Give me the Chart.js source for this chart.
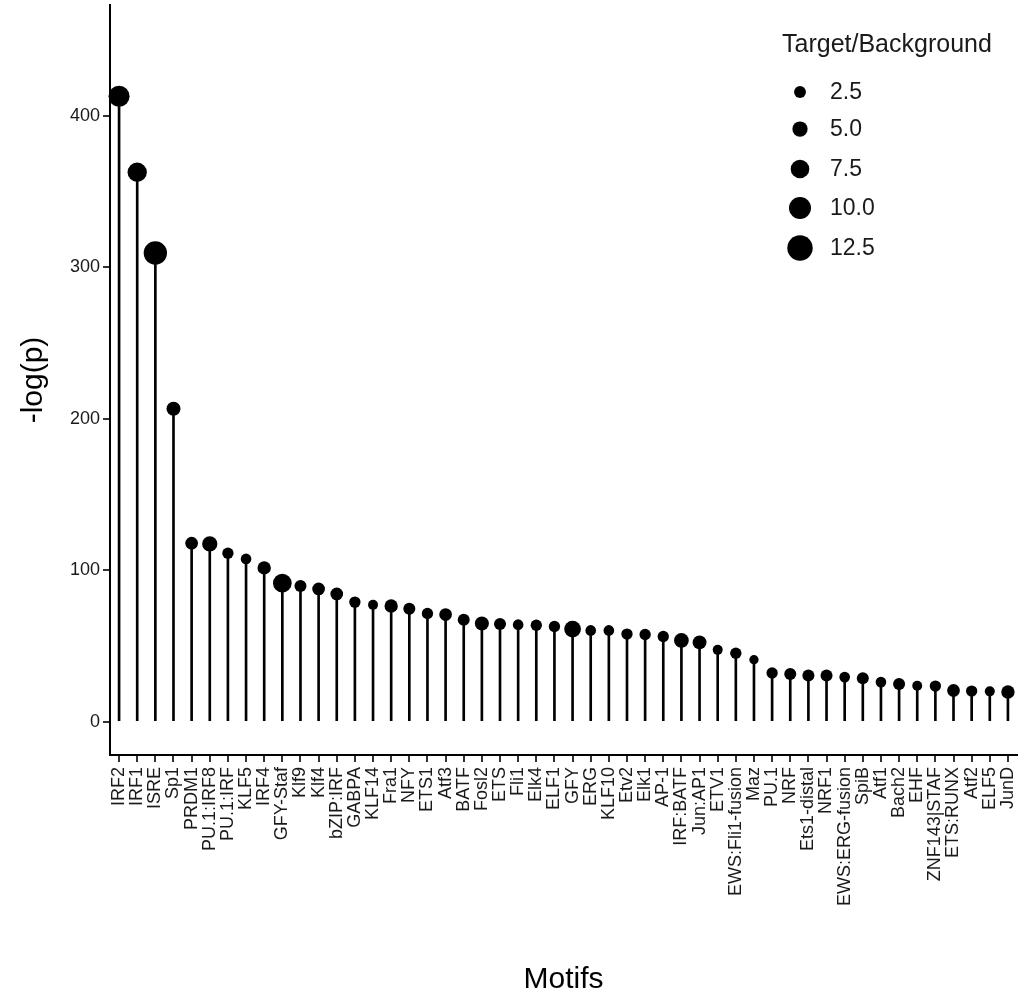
<!DOCTYPE html>
<html>
<head>
<meta charset="utf-8">
<script src="https://cdn.jsdelivr.net/npm/chart.js@4.4.1/dist/chart.umd.min.js"></script>
<style>
  html, body { margin: 0; padding: 0; background: #fff; }
  #wrap { width: 1018px; height: 1000px; }
</style>
</head>
<body>
<div id="wrap"><canvas id="motifChart" width="1018" height="1000"></canvas></div>
<script>
// motifs, in plot order
var motifs = [
  "IRF2", "IRF1", "ISRE", "Sp1", "PRDM1", "PU.1:IRF8", "PU.1:IRF", "KLF5", "IRF4", "GFY-Staf",
  "Klf9", "Klf4", "bZIP:IRF", "GABPA", "KLF14", "Fra1", "NFY", "ETS1", "Atf3", "BATF",
  "Fosl2", "ETS", "Fli1", "Elk4", "ELF1", "GFY", "ERG", "KLF10", "Etv2", "Elk1",
  "AP-1", "IRF:BATF", "Jun:AP1", "ETV1", "EWS:Fli1-fusion", "Maz", "PU.1", "NRF", "Ets1-distal", "NRF1",
  "EWS:ERG-fusion", "SpiB", "Atf1", "Bach2", "EHF", "ZNF143|STAF", "ETS:RUNX", "Atf2", "ELF5", "JunD"
];

// -log(p)
var logP = [
  412.8, 362.6, 309.3, 206.5, 117.8, 117.3, 111.2, 107.4, 101.5, 91.4,
  89.6, 87.6, 84.3, 78.9, 77.1, 76.4, 74.5, 71.4, 70.7, 67.2,
  64.8, 64.4, 64.0, 63.7, 62.8, 61.1, 60.2, 60.2, 57.8, 57.6,
  56.2, 53.6, 52.3, 47.4, 45.2, 40.9, 32.1, 31.4, 30.5, 30.5,
  29.4, 28.7, 26.1, 24.8, 23.7, 23.5, 20.6, 20.2, 20.0, 19.6
];

// target / background ratio (dot size)
var ratio = [
  9.3, 8.0, 11.0, 4.1, 3.1, 5.0, 2.1, 1.6, 3.6, 7.5,
  2.6, 3.1, 3.1, 2.1, 1.1, 3.6, 2.6, 2.1, 3.1, 2.6,
  4.1, 2.6, 1.6, 2.1, 2.1, 6.1, 1.6, 1.6, 2.1, 2.1,
  2.1, 4.6, 4.0, 1.1, 2.1, 0.6, 2.1, 2.6, 2.6, 2.6,
  1.6, 2.6, 1.6, 2.6, 1.1, 2.1, 3.1, 2.1, 1.1, 3.6
];

var yTicks = [0, 100, 200, 300, 400];
var legendSizes = [2.5, 5.0, 7.5, 10.0, 12.5];
var legendLabels = ["2.5", "5.0", "7.5", "10.0", "12.5"];

var FONT = "'Liberation Sans', Arial, sans-serif";

function dotRadius(v) {
  return (8.5 + 1.35 * v) / 2;
}

// size legend drawn by hand (chart.js legend can't vary point size)
var sizeLegend = {
  id: "sizeLegend",
  afterDraw: function (chart) {
    var ctx = chart.ctx;
    ctx.save();
    ctx.fillStyle = "#1a1a1a";
    ctx.textBaseline = "middle";
    ctx.textAlign = "left";
    ctx.font = "25px " + FONT;
    ctx.fillText("Target/Background", 782, 45);

    var ys = [92, 129, 169, 208, 248];
    ctx.font = "23px " + FONT;
    for (var i = 0; i < legendSizes.length; i++) {
      ctx.beginPath();
      ctx.arc(800, ys[i], dotRadius(legendSizes[i]), 0, Math.PI * 2);
      ctx.fillStyle = "#000";
      ctx.fill();
      ctx.fillStyle = "#1a1a1a";
      ctx.fillText(legendLabels[i], 830, ys[i] + 1);
    }
    ctx.restore();
  },
};

var ctx = document.getElementById("motifChart").getContext("2d");
new Chart(ctx, {
  data: {
    labels: motifs,
    datasets: [
      {
        type: "line",
        data: logP,
        showLine: false,
        clip: false,
        pointRadius: function (c) { return dotRadius(ratio[c.dataIndex]); },
        pointHoverRadius: function (c) { return dotRadius(ratio[c.dataIndex]); },
        pointBackgroundColor: "#000",
        pointBorderWidth: 0,
        order: 0,
      },
      {
        type: "bar",
        data: logP,
        backgroundColor: "#000",
        barThickness: 2,
        order: 1,
      },
    ],
  },
  options: {
    responsive: false,
    animation: false,
    layout: { autoPadding: false, padding: { top: 5, right: 1, left: 0, bottom: 0 } },
    plugins: {
      legend: { display: false },
      tooltip: { enabled: false },
    },
    scales: {
      x: {
        type: "category",
        offset: true,
        grid: { display: true, offset: false, drawOnChartArea: false, drawTicks: true, tickLength: 7, color: "#333", lineWidth: 2 },
        border: { display: true, color: "#000", width: 2 },
        ticks: {
          autoSkip: false,
          minRotation: 90,
          maxRotation: 90,
          padding: 5,
          color: "#1a1a1a",
          font: { family: FONT, size: 18 },
        },
        title: {
          display: true,
          text: "Motifs",
          color: "#000",
          font: { family: FONT, size: 30 },
          padding: { top: 0, bottom: 2 },
        },
        afterFit: function (scale) {
          scale.height = 245;
          scale.paddingLeft = 0;
          scale.paddingRight = 0;
        },
      },
      y: {
        min: -22,
        max: 473,
        afterBuildTicks: function (scale) {
          scale.ticks = yTicks.map(function (v) { return { value: v }; });
        },
        grid: { display: true, drawOnChartArea: false, drawTicks: true, tickLength: 7, color: "#333", lineWidth: 2 },
        border: { display: true, color: "#000", width: 2 },
        ticks: {
          padding: 3,
          color: "#1a1a1a",
          font: { family: FONT, size: 18 },
        },
        title: {
          display: true,
          text: "-log(p)",
          color: "#000",
          font: { family: FONT, size: 30 },
          padding: { top: 16, bottom: 0 },
        },
        afterFit: function (scale) {
          scale.width = 110;
          scale.paddingTop = 0;
          scale.paddingBottom = 0;
        },
      },
    },
  },
  plugins: [sizeLegend],
});
</script>
</body>
</html>
